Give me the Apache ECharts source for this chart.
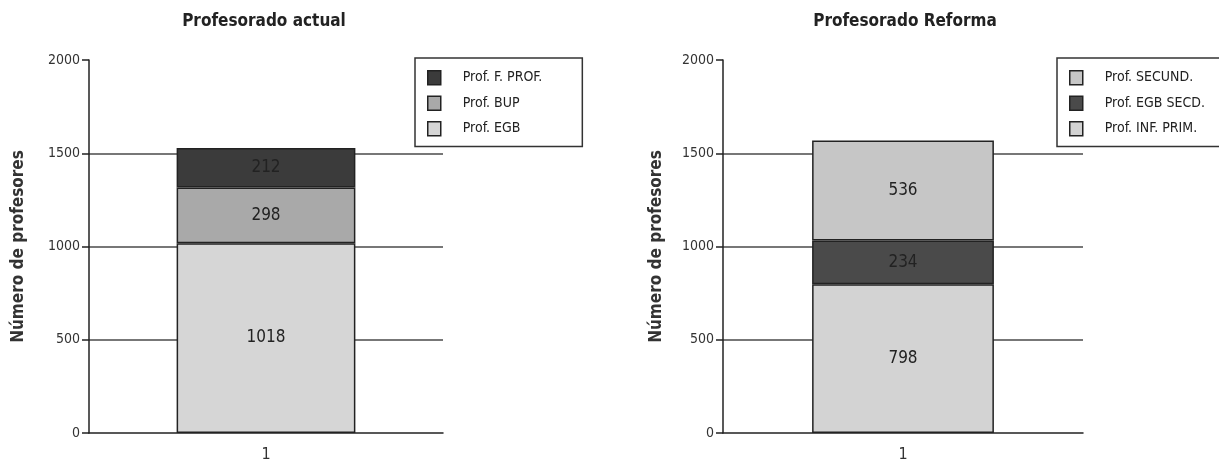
<!DOCTYPE html>
<html>
<head>
<meta charset="utf-8">
<script src="https://cdn.jsdelivr.net/npm/echarts@6/dist/echarts.min.js"></script>
<style>
  html, body { margin: 0; padding: 0; background: #fff; }
  #chart { width: 1219px; height: 470px; }
</style>
</head>
<body>
<div id="chart"></div>
<script>
const categories = ['1']
const actualNames = ['Prof. EGB', 'Prof. BUP', 'Prof. F. PROF.']
const actualValues = [1018, 298, 212]
const reformaNames = ['Prof. INF. PRIM.', 'Prof. EGB SECD.', 'Prof. SECUND.']
const reformaValues = [798, 234, 536]
const yMin = 0
const yMax = 2000
const yStep = 500

const actualColors = ['#d6d6d6', '#a9a9a9', '#3b3b3b']
const reformaColors = ['#d3d3d3', '#4a4a4a', '#c6c6c6']

const FONT = "'Liberation Sans Narrow', 'DejaVu Sans Condensed', 'Liberation Sans', sans-serif"
const INK = '#222'

function makeSeries(names, values, colors, idx) {
  return names.map((name, i) => ({
    name,
    type: 'bar',
    stack: 'stack' + idx,
    xAxisIndex: idx,
    yAxisIndex: idx,
    barWidth: '50.5%',
    data: [values[i]],
    itemStyle: { color: colors[i], borderColor: INK, borderWidth: 1.5 },
    label: {
      show: true,
      position: 'inside',
      color: INK,
      fontFamily: FONT,
      fontSize: 17,
    },
  }))
}

function yAxis(idx, gap) {
  return {
    type: 'value',
    gridIndex: idx,
    min: yMin,
    max: yMax,
    interval: yStep,
    name: 'Número de profesores',
    nameLocation: 'middle',
    nameGap: gap,
    nameTextStyle: { fontFamily: FONT, fontWeight: 'bold', fontSize: 17, color: '#333' },
    axisLine: { show: true, lineStyle: { color: INK, width: 1.5 } },
    axisTick: { show: true, length: 7, lineStyle: { color: INK, width: 1.5 } },
    axisLabel: {
      fontFamily: FONT,
      fontSize: 14,
      color: '#333',
      margin: 9,
      formatter: (v) => String(v),
    },
    splitLine: {
      show: true,
      showMinLine: false,
      showMaxLine: false,
      lineStyle: { color: '#4a4a4a', width: 1.5 },
    },
  }
}

function xAxis(idx) {
  return {
    type: 'category',
    gridIndex: idx,
    data: categories,
    axisLine: { lineStyle: { color: INK, width: 1.5 } },
    axisTick: { alignWithLabel: true, length: 8, lineStyle: { color: INK, width: 1.5 } },
    axisLabel: { fontFamily: FONT, fontSize: 16, color: '#333', margin: 14 },
  }
}

function legend(names, left) {
  return {
    orient: 'vertical',
    left,
    top: 58,
    data: names.slice().reverse(),
    selectedMode: false,
    icon: 'rect',
    itemWidth: 13,
    itemHeight: 14,
    itemGap: 10,
    padding: [12, 40, 10, 12],
    borderColor: '#333',
    borderWidth: 1.5,
    itemStyle: { borderColor: INK, borderWidth: 1.5 },
    textStyle: { fontFamily: FONT, fontSize: 14, color: '#222', padding: [0, 0, 0, 17] },
  }
}

const chart = echarts.init(document.getElementById('chart'))
chart.setOption({
  animation: false,
  title: [
    {
      text: 'Profesorado actual',
      left: 259,
      top: 8,
      textAlign: 'center',
      textStyle: { fontFamily: FONT, fontWeight: 'bold', fontSize: 17, color: '#222' },
    },
    {
      text: 'Profesorado Reforma',
      left: 900,
      top: 8,
      textAlign: 'center',
      textStyle: { fontFamily: FONT, fontWeight: 'bold', fontSize: 17, color: '#222' },
    },
  ],
  legend: [legend(actualNames, 415), legend(reformaNames, 1057)],
  grid: [
    { left: 89, right: 776, top: 60, bottom: 37 },
    { left: 723, right: 136, top: 60, bottom: 37 },
  ],
  xAxis: [xAxis(0), xAxis(1)],
  yAxis: [yAxis(0, 62), yAxis(1, 58)],
  series: [
    ...makeSeries(actualNames, actualValues, actualColors, 0),
    ...makeSeries(reformaNames, reformaValues, reformaColors, 1),
  ],
})
</script>
</body>
</html>
